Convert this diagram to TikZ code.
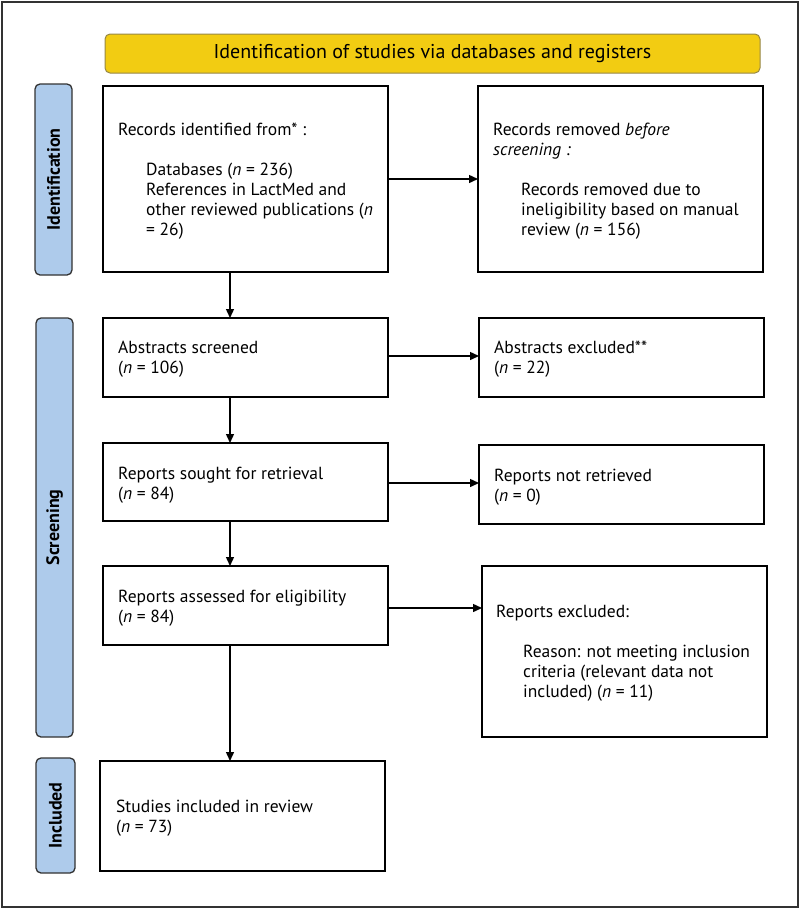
\documentclass[tikz,border=0pt]{standalone}
\usepackage{fontspec}
\setmainfont{PT Sans}
\usetikzlibrary{arrows.meta}
\definecolor{titleyellow}{RGB}{242,204,18}
\definecolor{titleedge}{RGB}{150,135,70}
\definecolor{sideblue}{RGB}{174,203,235}
\definecolor{frameedge}{RGB}{50,50,50}
\begin{document}
\begin{tikzpicture}[x=1pt,y=-1pt,
  box/.style={draw=black,line width=1.2pt,fill=white,anchor=north west,inner sep=0pt,outer sep=0pt},
  sidelab/.style={draw=frameedge,line width=1.3pt,fill=sideblue,rounded corners=5pt,anchor=north west,inner sep=0pt,outer sep=0pt,minimum width=37pt},
  sidetext/.style={rotate=90,font=\fontsize{18}{20}\selectfont\bfseries},
  txt/.style={anchor=north west,inner sep=0pt,align=left,font=\fontsize{17.5}{20}\selectfont},
  arr/.style={line width=1.4pt,-{Triangle[length=9pt,width=8pt]}}]
\useasboundingbox (0,0) rectangle (800,908);
\draw[frameedge,line width=2pt] (1.5,1.5) rectangle (797.5,906.5);
% title
\node[draw=titleedge,line width=1pt,fill=titleyellow,rounded corners=5pt,anchor=north west,
  minimum width=655pt,minimum height=39pt,inner sep=0pt,outer sep=0pt,
  font=\fontsize{20}{22}\selectfont] (title) at (105,34) {Identification of studies via databases and registers};
% side labels
\node[sidelab,minimum height=191pt] (sid) at (35,84) {};
\node[sidetext] (sidt) at (sid.center) {Identification};
\node[sidelab,minimum height=419pt] (ssc) at (36,318) {};
\node[sidetext] (ssct) at (ssc.center) {Screening};
\node[sidelab,minimum height=115pt,minimum width=39pt] (sin) at (36,758) {};
\node[sidetext] (sint) at (sin.center) {Included};
% boxes
\node[box,minimum width=285pt,minimum height=186pt] (b1) at (103,86) {};
\node[box,minimum width=285pt,minimum height=186pt] (b2) at (478,86) {};
\node[box,minimum width=285pt,minimum height=79pt] (b3) at (103,318) {};
\node[box,minimum width=285pt,minimum height=79pt] (b4) at (479,318) {};
\node[box,minimum width=285pt,minimum height=78pt] (b5) at (103,443) {};
\node[box,minimum width=285pt,minimum height=79pt] (b6) at (479,445) {};
\node[box,minimum width=285pt,minimum height=79pt] (b7) at (103,566) {};
\node[box,minimum width=285pt,minimum height=171pt] (b8) at (482,566) {};
\node[box,minimum width=285pt,minimum height=110pt] (b9) at (100,761) {};
% texts
\node[txt] (t1a) at (118,123) {Records identified from* :};
\node[txt] (t1b) at (146,163) {Databases (\textit{n} = 236)\\References in LactMed and\\other reviewed publications (\textit{n}\\= 26)};
\node[txt] (t2a) at (493,123) {Records removed \textit{before}\\\textit{screening :}};
\node[txt] (t2b) at (521,183) {Records removed due to\\ineligibility based on manual\\review (\textit{n} = 156)};
\node[txt] (t3) at (118,341) {Abstracts screened\\(\textit{n} = 106)};
\node[txt] (t4) at (494,341) {Abstracts excluded**\\(\textit{n} = 22)};
\node[txt] (t5) at (118,467) {Reports sought for retrieval\\(\textit{n} = 84)};
\node[txt] (t6) at (494,469) {Reports not retrieved\\(\textit{n} = 0)};
\node[txt] (t7) at (118,590) {Reports assessed for eligibility\\(\textit{n} = 84)};
\node[txt] (t8a) at (496,605) {Reports excluded:};
\node[txt] (t8b) at (523,645) {Reason: not meeting inclusion\\criteria (relevant data not\\included) (\textit{n} = 11)};
\node[txt] (t9) at (116,800) {Studies included in review\\(\textit{n} = 73)};
% connectors
\coordinate (vx) at (230,0);
\draw[arr] (b1.east) -- (b2.west);
\draw[arr] (b3.east |- 0,356) -- (b4.west |- 0,356);
\draw[arr] (b5.east |- 0,483) -- (b6.west |- 0,483);
\draw[arr] (b7.east |- 0,608) -- (b8.west |- 0,608);
\draw[arr] (b1.south -| vx) -- (b3.north -| vx);
\draw[arr] (b3.south -| vx) -- (b5.north -| vx);
\draw[arr] (b5.south -| vx) -- (b7.north -| vx);
\draw[arr] (b7.south -| vx) -- (b9.north -| vx);
\end{tikzpicture}
\end{document}
